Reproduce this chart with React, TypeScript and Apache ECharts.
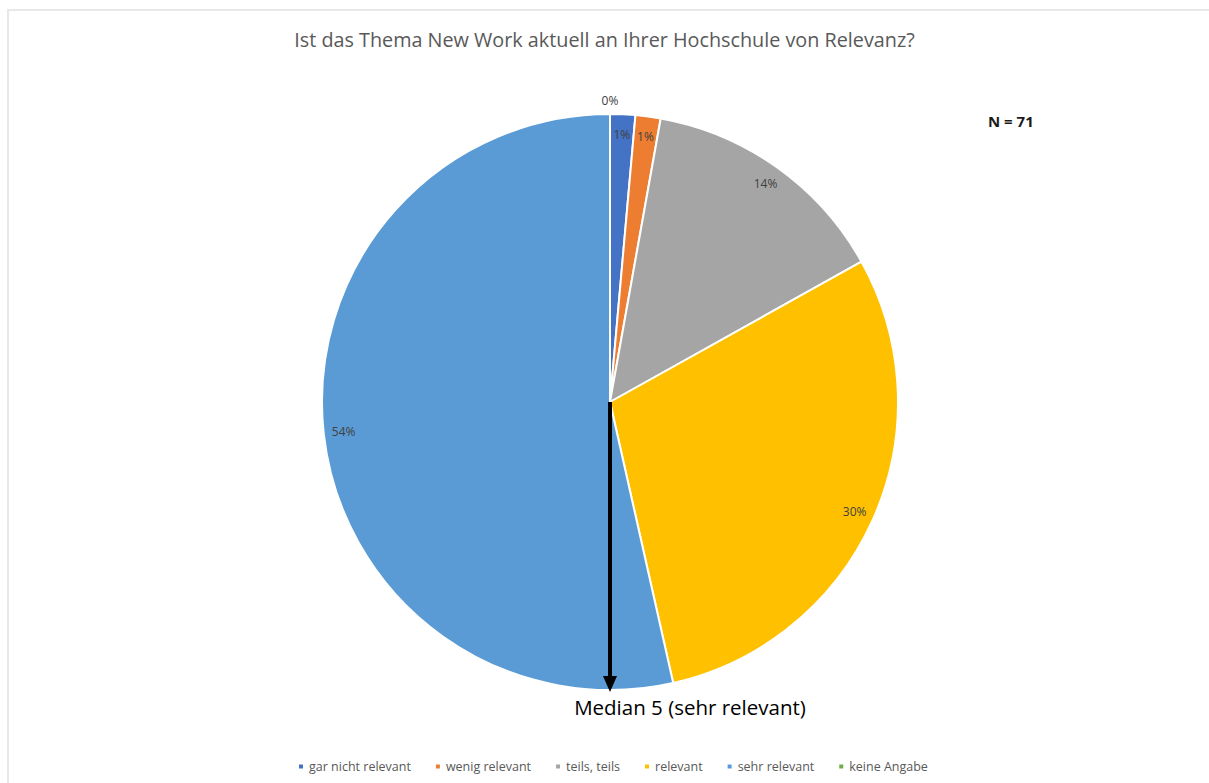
import React, { useEffect, useRef } from "react";
import * as echarts from "echarts";

const categories = ["gar nicht relevant", "wenig relevant", "teils, teils", "relevant", "sehr relevant", "keine Angabe"];
const counts = [1, 1, 10, 21, 38, 0];
const colors = ["#4472C4", "#ED7D31", "#A5A5A5", "#FFC000", "#5B9BD5", "#70AD47"];
const titleText = "Ist das Thema New Work aktuell an Ihrer Hochschule von Relevanz?";
const nText = "N = 71";
const medianText = "Median 5 (sehr relevant)";

const W = 1209;
const H = 783;
const CX = 610;
const CY = 402;
const R = 288;

export default function App() {
  const ref = useRef<HTMLDivElement>(null);
  useEffect(() => {
    document.body.style.margin = "0";
    if (!ref.current) return;
    const chart = echarts.init(ref.current, undefined, { renderer: "svg" });
    const total = counts.reduce((a, b) => a + b, 0);
    const baseData = categories.map((c, i) => ({ name: c, value: counts[i], itemStyle: { color: colors[i] } }));
    const labelData = categories.map((c, i) => {
      const item: any = { name: c, value: counts[i] };
      if (counts[i] === 0) {
        item.label = { offset: [0, -34] };
      }
      return item;
    });
    const font = "'Open Sans', sans-serif";
    chart.setOption({
      animation: false,
      title: {
        text: titleText,
        left: "center",
        top: 24,
        textStyle: { fontFamily: font, fontSize: 19.8, fontWeight: "normal", color: "#595959" },
      },
      legend: {
        bottom: 5,
        left: 292,
        icon: "rect",
        itemWidth: 6,
        itemHeight: 6,
        itemGap: 23,
        textStyle: { fontFamily: font, fontSize: 12.5, color: "#595959" },
        data: categories,
      },
      series: [
        {
          type: "pie",
          center: [CX, CY],
          radius: [0, R],
          startAngle: 90,
          clockwise: true,
          silent: true,
          label: { show: false },
          labelLine: { show: false },
          itemStyle: { borderColor: "#ffffff", borderWidth: 2 },
          data: baseData,
        },
        {
          type: "pie",
          center: [CX, CY],
          radius: [R * 0.84, R],
          startAngle: 90,
          clockwise: true,
          silent: true,
          legendHoverLink: false,
          itemStyle: { color: "rgba(0,0,0,0)", borderWidth: 0 },
          label: {
            show: true,
            position: "inside",
            fontFamily: font,
            fontSize: 12,
            color: "#404040",
            formatter: (p: any) => Math.round((p.value / total) * 100) + "%",
          },
          labelLine: { show: false },
          data: labelData,
        },
      ],
      graphic: [
        {
          type: "text",
          left: 988,
          top: 113,
          style: { text: nText, fontFamily: font, fontSize: 15, fontWeight: "bold", fill: "#1a1a1a" },
        },
        {
          type: "line",
          shape: { x1: CX, y1: CY, x2: CX, y2: CY + R - 12 },
          style: { stroke: "#000000", lineWidth: 4 },
          z: 100,
        },
        {
          type: "polygon",
          shape: { points: [[CX - 7, CY + R - 14], [CX + 7, CY + R - 14], [CX, CY + R + 2]] },
          style: { fill: "#000000" },
          z: 100,
        },
        {
          type: "text",
          x: 690,
          y: 707,
          style: {
            text: medianText,
            fontFamily: font,
            fontSize: 20.5,
            fill: "#000000",
            align: "center",
            verticalAlign: "middle",
          },
          z: 100,
        },
      ],
    });
    return () => chart.dispose();
  }, []);
  return (
    <div style={{ position: "relative", width: W, height: H, overflow: "hidden", background: "#fff" }}>
      <div
        style={{
          position: "absolute",
          left: 7,
          top: 9,
          width: W - 7,
          height: H - 9,
          borderTop: "2px solid #e8e8e8",
          borderLeft: "2px solid #e8e8e8",
          boxSizing: "border-box",
        }}
      />
      <div ref={ref} style={{ position: "absolute", left: 0, top: 0, width: W, height: H }} />
    </div>
  );
}
